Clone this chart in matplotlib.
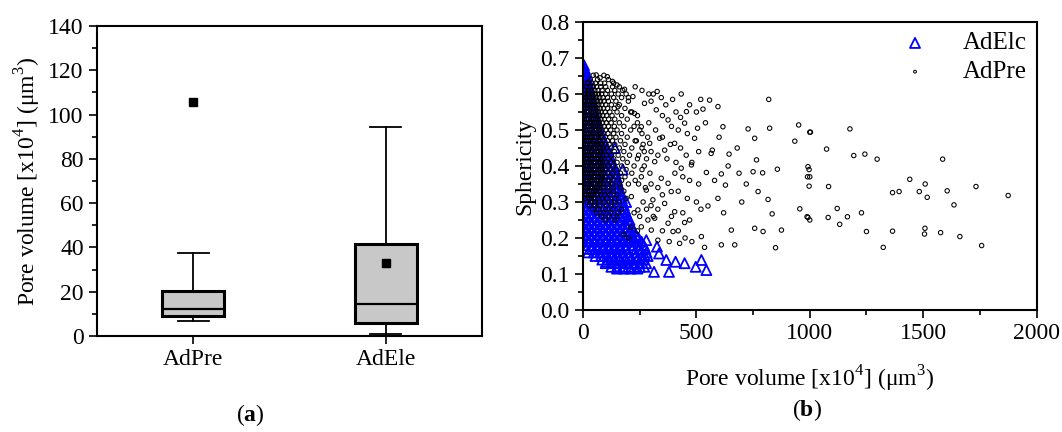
# Pore volume box plot (a) and sphericity vs pore volume scatter (b)
import matplotlib
matplotlib.use("Agg")
import matplotlib.pyplot as plt
import matplotlib.font_manager as fm
from matplotlib.ticker import MultipleLocator

# make sure Liberation Serif (Times-like) is registered
serif_name = 'Liberation Serif'
for f in fm.findSystemFonts():
    if 'LiberationSerif' in f.replace(' ', ''):
        fm.fontManager.addfont(f)
        if f.endswith('LiberationSerif-Regular.ttf'):
            serif_name = fm.FontProperties(fname=f).get_name()

plt.rcParams['font.family'] = [serif_name, 'DejaVu Serif']
plt.rcParams['mathtext.fontset'] = 'custom'
plt.rcParams['mathtext.rm'] = serif_name
plt.rcParams['mathtext.bf'] = serif_name + ':bold'
plt.rcParams['font.size'] = 16

# ---- box plot stats (x10^4 um^3) ----
groups = ['AdPre', 'AdEle']
q1 = [9.0, 6.0]
med = [12.0, 14.3]
q3 = [20.5, 41.4]
wlo = [7.0, 0.9]
whi = [37.3, 94.5]
means = [105.8, 33.1]

# ---- scatter: AdElc (blue triangles), rows of (sphericity, [volumes]) ----
ele_rows = [
    (0.68, [0, 4]), (0.67, [0, 8]), (0.66, [2, 12]), (0.65, [0, 10, 16]),
    (0.64, [4, 20]), (0.63, [0, 12, 23]), (0.62, [5, 18, 26]), (0.61, [0, 15, 30]),
    (0.60, [8, 22, 34]), (0.59, [0, 16, 37]), (0.58, [6, 24, 40]), (0.57, [0, 18, 43]),
    (0.56, [10, 30, 46]), (0.55, [0, 22, 49]), (0.54, [8, 30, 53]), (0.53, [0, 20, 40, 57]),
    (0.52, [10, 32, 62]), (0.51, [0, 22, 45, 67]), (0.50, [12, 35, 57, 72]),
    (0.49, [0, 24, 47, 78]), (0.48, [10, 35, 60, 84]), (0.47, [0, 22, 46, 70, 90]),
    (0.46, [12, 36, 60, 84, 97]), (0.45, [0, 25, 50, 75, 104]),
    (0.44, [12, 38, 62, 88, 110]), (0.43, [0, 25, 50, 75, 100, 116]),
    (0.42, [12, 38, 62, 88, 110, 122]), (0.41, [0, 25, 50, 75, 100, 128]),
    (0.40, [12, 38, 62, 88, 112, 134]), (0.39, [0, 25, 50, 75, 100, 122, 139]),
    (0.38, [12, 38, 62, 88, 112, 143]), (0.37, [0, 25, 50, 75, 100, 125, 147]),
    (0.36, [12, 38, 62, 88, 112, 135, 151]), (0.35, [0, 25, 50, 75, 100, 125, 155]),
    (0.34, [12, 38, 62, 88, 112, 138, 159]), (0.33, [0, 25, 50, 75, 100, 125, 148, 163]),
    (0.32, [12, 38, 62, 88, 112, 138, 167]), (0.31, [0, 25, 50, 75, 100, 125, 150, 171]),
    (0.30, [12, 38, 62, 88, 112, 138, 160, 175]), (0.29, [0, 25, 50, 75, 100, 125, 150, 180]),
    (0.28, [12, 38, 62, 88, 112, 138, 162, 185]),
    (0.27, [0, 25, 50, 75, 100, 125, 150, 172, 190]),
    (0.26, [12, 38, 62, 88, 112, 138, 162, 185, 196]),
    (0.25, [0, 25, 50, 75, 100, 125, 150, 175, 202]),
    (0.24, [12, 38, 62, 88, 112, 138, 162, 188, 208]),
    (0.23, [0, 25, 50, 75, 100, 125, 150, 175, 198, 215]),
    (0.22, [12, 38, 62, 88, 112, 138, 162, 188, 210, 222]),
    (0.21, [0, 25, 50, 75, 100, 125, 150, 175, 200, 232]),
    (0.20, [12, 38, 62, 88, 112, 138, 162, 188, 215, 245]),
    (0.19, [0, 25, 50, 75, 100, 125, 150, 175, 200, 228, 258]),
    (0.18, [8, 38, 62, 88, 112, 138, 162, 188, 215, 242, 268]),
    (0.17, [15, 40, 65, 90, 115, 140, 165, 190, 218, 248, 275]),
    (0.16, [22, 48, 75, 100, 125, 150, 175, 200, 228, 255, 280]),
    (0.15, [55, 80, 105, 130, 155, 180, 205, 232, 260, 285]),
    (0.14, [85, 110, 135, 160, 185, 210, 238, 265]),
    (0.13, [100, 125, 150, 175, 200, 225, 250, 278]),
    (0.12, [125, 150, 175, 200, 225, 250, 270]),
    (0.115, [150, 180, 210, 240]),
]
ele_sparse = [(544, 0.111), (522, 0.139), (497, 0.120), (448, 0.130), (408, 0.134),
              (379, 0.106), (367, 0.139), (335, 0.157), (326, 0.176), (313, 0.106),
              (279, 0.194), (235, 0.204), (271, 0.153), (102, 0.134), (205, 0.25),
              (190, 0.30), (175, 0.39), (140, 0.45)]

# ---- scatter: AdPre (black circles) ----
pre_rows = [
    (0.652, [45, 92]),
    (0.64, [32, 64, 112]),
    (0.63, [22, 40, 55, 78, 95, 135]),
    (0.62, [15, 30, 45, 60, 78, 100, 130, 160]),
    (0.61, [10, 24, 38, 52, 66, 84, 108, 140, 175]),
    (0.60, [6, 18, 30, 42, 55, 68, 82, 100, 125, 155, 190]),
    (0.59, [3, 14, 25, 36, 48, 60, 73, 88, 108, 135, 170]),
    (0.58, [0, 10, 20, 30, 41, 52, 64, 77, 92, 112, 145, 200]),
    (0.57, [5, 15, 25, 35, 46, 57, 69, 83, 100, 125, 160]),
    (0.56, [0, 10, 20, 30, 40, 51, 62, 75, 90, 108, 138, 185]),
    (0.55, [5, 15, 25, 35, 45, 56, 68, 81, 97, 118, 150, 215]),
    (0.54, [0, 10, 20, 30, 40, 50, 61, 73, 87, 104, 128, 170]),
    (0.53, [5, 15, 25, 35, 45, 55, 66, 79, 94, 113, 140, 195]),
    (0.52, [0, 10, 20, 30, 40, 50, 60, 72, 86, 102, 124, 160, 240]),
    (0.51, [5, 15, 25, 35, 45, 55, 66, 78, 93, 112, 138, 180]),
    (0.50, [0, 10, 20, 30, 40, 50, 60, 71, 84, 100, 122, 150, 210]),
    (0.49, [5, 15, 25, 35, 45, 55, 65, 77, 91, 110, 135, 170, 260]),
    (0.48, [0, 10, 20, 30, 40, 50, 60, 70, 82, 98, 118, 145, 195]),
    (0.47, [5, 15, 25, 35, 45, 55, 65, 76, 90, 108, 130, 165, 230]),
    (0.46, [0, 10, 20, 30, 40, 50, 60, 70, 82, 97, 115, 140, 185]),
    (0.45, [5, 15, 25, 35, 45, 55, 65, 76, 89, 105, 126, 160, 215]),
    (0.44, [0, 10, 20, 30, 40, 50, 60, 70, 82, 96, 113, 138, 180, 270]),
    (0.43, [5, 15, 25, 35, 45, 55, 65, 75, 88, 104, 125, 155, 205]),
    (0.42, [0, 10, 20, 30, 40, 50, 60, 70, 82, 95, 112, 135, 175, 240]),
    (0.41, [5, 15, 25, 35, 45, 55, 65, 75, 87, 102, 122, 150, 195]),
    (0.40, [0, 10, 20, 30, 40, 50, 60, 70, 81, 94, 110, 132, 170, 225]),
    (0.39, [5, 15, 25, 35, 45, 55, 65, 75, 86, 100, 120, 148, 190]),
    (0.38, [0, 10, 20, 30, 40, 50, 60, 70, 80, 93, 108, 130, 165, 215]),
    (0.37, [5, 15, 25, 35, 45, 55, 65, 75, 86, 100, 118, 145, 185]),
    (0.36, [0, 10, 20, 30, 40, 50, 60, 70, 81, 95, 112, 135, 170, 230]),
    (0.35, [5, 15, 25, 35, 45, 55, 65, 76, 90, 108, 130, 160, 200]),
    (0.34, [2, 12, 22, 32, 42, 52, 63, 75, 90, 108, 132, 165]),
    (0.33, [8, 18, 28, 38, 48, 60, 74, 90, 110, 135, 180]),
    (0.32, [5, 15, 25, 36, 48, 62, 78, 96, 120, 150]),
    (0.31, [12, 24, 36, 50, 66, 85, 108, 140, 190]),
    (0.30, [20, 35, 52, 72, 95, 125, 160]),
    (0.29, [30, 50, 75, 105, 140]),
    (0.28, [45, 70, 100, 130, 170]),
    (0.27, [60, 90, 120, 155]),
    (0.26, [80, 115, 150]),
    (0.25, [100, 140]),
]
pre_mid = [(58, 0.653), (107, 0.648), (183, 0.613), (220, 0.593), (154, 0.565), (227, 0.546),
           (271, 0.574), (257, 0.509), (294, 0.463), (257, 0.370), (279, 0.333), (213, 0.315),
           (308, 0.306), (242, 0.278), (330, 0.194), (301, 0.222), (257, 0.231), (286, 0.25),
           (316, 0.412), (338, 0.477), (323, 0.556), (375, 0.528), (200, 0.20), (180, 0.21),
           (210, 0.23), (240, 0.22), (225, 0.27), (250, 0.26), (265, 0.30), (275, 0.34),
           (245, 0.35), (295, 0.38), (260, 0.39), (280, 0.42), (245, 0.43), (265, 0.46),
           (235, 0.47), (225, 0.51), (250, 0.50), (240, 0.54), (210, 0.55), (200, 0.59),
           (230, 0.62), (260, 0.61), (290, 0.60), (300, 0.58), (345, 0.59), (365, 0.57),
           (395, 0.585), (410, 0.55), (430, 0.535), (470, 0.57), (500, 0.55), (350, 0.54),
           (390, 0.51), (420, 0.50), (460, 0.49), (505, 0.505), (540, 0.52), (320, 0.50),
           (350, 0.48), (385, 0.46), (430, 0.45), (455, 0.43), (510, 0.44), (300, 0.44),
           (330, 0.43), (370, 0.42), (410, 0.41), (440, 0.37), (470, 0.36), (510, 0.35),
           (300, 0.35), (330, 0.34), (350, 0.32), (420, 0.33), (460, 0.31), (500, 0.30),
           (520, 0.28), (300, 0.29), (330, 0.28), (390, 0.26), (440, 0.27), (470, 0.25),
           (350, 0.22), (420, 0.22), (450, 0.20), (480, 0.19), (380, 0.19), (310, 0.26),
           (280, 0.28), (270, 0.40), (290, 0.52), (310, 0.60), (260, 0.45), (285, 0.48),
           (600, 0.48), (640, 0.40), (580, 0.36), (620, 0.27), (700, 0.30), (680, 0.45),
           (720, 0.35), (75, 0.645), (130, 0.635), (150, 0.625), (20, 0.632)]
pre_far = [(327, 0.607), (433, 0.600), (519, 0.585), (558, 0.583), (819, 0.585), (823, 0.505),
           (617, 0.509), (728, 0.503), (757, 0.477), (951, 0.514), (1000, 0.494), (570, 0.444),
           (644, 0.433), (765, 0.417), (544, 0.382), (610, 0.378), (688, 0.380), (750, 0.384),
           (792, 0.381), (857, 0.391), (992, 0.398), (1000, 0.37), (628, 0.347), (772, 0.329),
           (595, 0.310), (816, 0.307), (551, 0.289), (834, 0.267), (988, 0.259), (654, 0.222),
           (610, 0.181), (669, 0.181), (536, 0.174), (849, 0.173), (956, 0.281), (757, 0.227),
           (875, 0.222), (522, 0.204), (794, 0.218), (448, 0.243), (478, 0.403), (480, 0.41),
           (433, 0.394), (405, 0.38), (345, 0.366), (375, 0.352), (389, 0.329), (360, 0.296),
           (404, 0.273), (316, 0.255), (375, 0.241), (397, 0.218), (426, 0.185), (360, 0.444),
           (404, 0.463), (448, 0.519), (456, 0.551), (529, 0.558), (595, 0.565), (492, 0.477),
           (565, 0.435), (934, 0.469), (1003, 0.494), (1177, 0.503), (1074, 0.447), (1243, 0.433),
           (1194, 0.429), (1297, 0.419), (1586, 0.419), (990, 0.37), (997, 0.39), (997, 0.344),
           (1083, 0.343), (1441, 0.363), (1365, 0.326), (1394, 0.329), (1483, 0.329), (1509, 0.350),
           (1518, 0.313), (1606, 0.331), (1733, 0.343), (1636, 0.292), (1875, 0.318), (1121, 0.282),
           (1081, 0.257), (1166, 0.259), (1228, 0.270), (1132, 0.238), (992, 0.257), (1250, 0.218),
           (1365, 0.219), (1508, 0.227), (1506, 0.211), (1577, 0.215), (1662, 0.204), (1324, 0.174),
           (1758, 0.179), (1000, 0.25)]

ele_x = [x for y, xs in ele_rows for x in xs] + [p[0] for p in ele_sparse]
ele_y = [y for y, xs in ele_rows for x in xs] + [p[1] for p in ele_sparse]
pre_pts = [(x, y) for y, xs in pre_rows for x in xs] + pre_mid + pre_far
pre_x = [p[0] for p in pre_pts]
pre_y = [p[1] for p in pre_pts]

vol_label = r'Pore volume [x10$^\mathregular{4}$] ($\mathregular{\mu}$m$^\mathregular{3}$)'

fig = plt.figure(figsize=(10.62, 4.32), dpi=100)

# ---------------- (a) box plot ----------------
ax1 = fig.add_axes([0.0913, 0.2222, 0.3626, 0.7176])
stats = []
for i in range(len(groups)):
    stats.append({'label': groups[i], 'q1': q1[i], 'med': med[i], 'q3': q3[i],
                  'whislo': wlo[i], 'whishi': whi[i], 'mean': means[i], 'fliers': []})
ax1.bxp(stats, positions=[1, 2], widths=0.32, capwidths=0.16, showmeans=True,
        patch_artist=True,
        boxprops=dict(facecolor='#c8c8c8', edgecolor='black', linewidth=2.2),
        medianprops=dict(color='black', linewidth=1.6),
        whiskerprops=dict(color='black', linewidth=1.3),
        capprops=dict(color='black', linewidth=1.3),
        meanprops=dict(marker='s', markerfacecolor='black', markeredgecolor='black',
                       markersize=6))
ax1.set_xlim(0.5, 2.5)
ax1.set_ylim(0, 140)
ax1.yaxis.set_major_locator(MultipleLocator(20))
ax1.yaxis.set_minor_locator(MultipleLocator(10))
ax1.tick_params(axis='both', which='major', direction='out', length=6, width=1.2, labelsize=17)
ax1.tick_params(axis='y', which='minor', direction='out', length=3.5, width=1.2)
ax1.tick_params(axis='x', which='minor', bottom=False)
ax1.set_ylabel(vol_label, fontsize=17, labelpad=4)
for s in ax1.spines.values():
    s.set_linewidth(1.5)
fig.text(0.2354, 0.040, r'($\mathbf{a}$)', ha='center', va='center', fontsize=17)

# ---------------- (b) scatter ----------------
ax2 = fig.add_axes([0.549, 0.2824, 0.427, 0.6667])
ax2.scatter(ele_x, ele_y, marker='^', s=52, facecolors='none', edgecolors='blue',
            linewidths=1.3, label='AdElc')
ax2.scatter(pre_x, pre_y, marker='o', s=10, facecolors='none', edgecolors='black',
            linewidths=0.75, label='AdPre')
ax2.set_xlim(0, 2000)
ax2.set_ylim(0, 0.8)
ax2.xaxis.set_major_locator(MultipleLocator(500))
ax2.xaxis.set_minor_locator(MultipleLocator(250))
ax2.yaxis.set_major_locator(MultipleLocator(0.1))
ax2.yaxis.set_minor_locator(MultipleLocator(0.05))
ax2.tick_params(axis='both', which='major', direction='out', length=6, width=1.2, labelsize=17)
ax2.tick_params(axis='both', which='minor', direction='out', length=3.5, width=1.2)
ax2.set_xlabel(vol_label, fontsize=17, labelpad=14)
ax2.set_ylabel('Sphericity', fontsize=17, labelpad=4)
for s in ax2.spines.values():
    s.set_linewidth(1.5)
leg = ax2.legend(loc='upper right', frameon=False, fontsize=18, handlelength=1.0,
                 handletextpad=1.4, borderaxespad=0.0, labelspacing=0.25, markerscale=1.0)
leg.legend_handles[1].set_sizes([4])
fig.text(0.760, 0.052, r'($\mathbf{b}$)', ha='center', va='center', fontsize=17)

fig.savefig('out.png', dpi=100, facecolor='white')
